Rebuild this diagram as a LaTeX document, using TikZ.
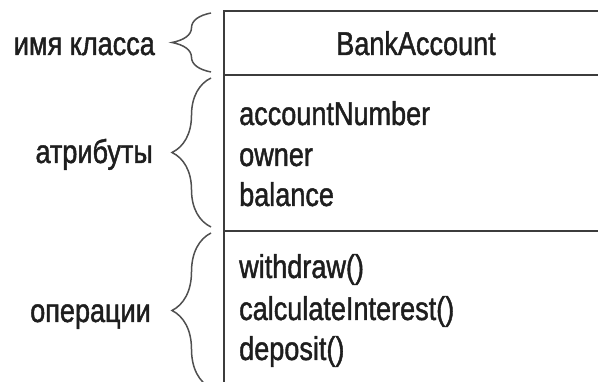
\documentclass[tikz,border=0pt]{standalone}
\usepackage{fontspec}
\setmainfont{Liberation Sans}[FakeStretch=0.82,FakeBold=1.3]
\usetikzlibrary{decorations.pathreplacing}
\definecolor{boxline}{HTML}{3C3C3C}
\definecolor{braceline}{HTML}{505050}
\definecolor{txt}{HTML}{1E1E1E}
\tikzset{
  umltext/.style={inner sep=0pt, text=txt, font=\fontsize{33}{40}\selectfont},
  boxrule/.style={draw=boxline, line width=1.6pt},
  curly/.style={draw=braceline, line width=1.5pt, decorate,
    decoration={brace, amplitude=39pt, aspect=0.5}}
}
\begin{document}
\begin{tikzpicture}[x=1pt,y=1pt]
\useasboundingbox[fill=white] (0,0) rectangle (598,-382);
% class box
\coordinate (tl) at (224,-11);
\coordinate (tr) at (598,-11);
\coordinate (bl) at (224,-382);
\coordinate (d1l) at (224,-75);
\coordinate (d1r) at (598,-75);
\coordinate (d2l) at (224,-231);
\coordinate (d2r) at (598,-231);
\draw[boxrule] (tr) -- (tl) -- (bl);
\draw[boxrule] (d1l) -- (d1r);
\draw[boxrule] (d2l) -- (d2r);
% compartments text
\node[umltext, anchor=base] (name) at (416,-55) {BankAccount};
\node[umltext, anchor=base west] (a1) at (239,-125) {accountNumber};
\node[umltext, anchor=base west] (a2) at (239,-166) {owner};
\node[umltext, anchor=base west] (a3) at (239,-206) {balance};
\node[umltext, anchor=base west] (o1) at (239,-278) {withdraw()};
\node[umltext, anchor=base west] (o2) at (239,-320) {calculateInterest()};
\node[umltext, anchor=base west] (o3) at (239,-360) {deposit()};
% braces
\coordinate (b1s) at (211,-72);
\coordinate (b1e) at (211,-13);
\coordinate (b2s) at (211,-227);
\coordinate (b2e) at (211,-78);
\coordinate (b3s) at (211,-388);
\coordinate (b3e) at (211,-233);
\draw[curly] (b1s) -- (b1e);
\draw[curly] (b2s) -- (b2e);
\draw[curly] (b3s) -- (b3e);
% labels
\node[umltext, anchor=base east] (l1) at (155,-55) {имя класса};
\node[umltext, anchor=base east] (l2) at (153,-163) {атрибуты};
\node[umltext, anchor=base east] (l3) at (151,-322) {операции};
\end{tikzpicture}
\end{document}
